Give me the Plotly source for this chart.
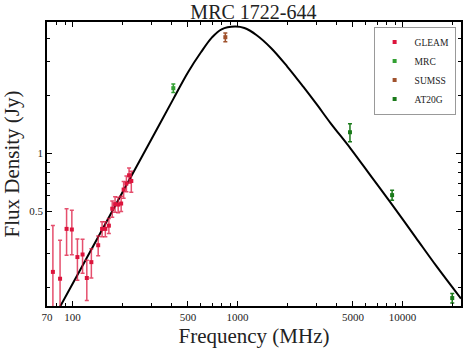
import plotly.graph_objects as go

# GLEAM
gleam_freq = [76, 84, 92, 99, 107, 115, 122, 130, 143, 151, 158, 166, 174, 181, 189, 197, 204, 212, 220, 227]
gleam_flux = [0.241, 0.222, 0.404, 0.401, 0.288, 0.297, 0.224, 0.271, 0.332, 0.404,
              0.404, 0.420, 0.515, 0.544, 0.541, 0.548, 0.648, 0.697, 0.769, 0.718]
gleam_err = [0.18, 0.13, 0.11, 0.105, 0.07, 0.06, 0.053, 0.047, 0.039, 0.036,
             0.036, 0.038, 0.05, 0.05, 0.05, 0.05, 0.065, 0.065, 0.07, 0.09]

mrc_freq = [408]
mrc_flux = [2.19]
mrc_err = [0.11]

sumss_freq = [843]
sumss_flux = [4.04]
sumss_err = [0.21]

at20g_freq = [4800, 8640, 20000]
at20g_flux = [1.29, 0.606, 0.176]
at20g_err = [0.14, 0.036, 0.01]

# fitted spectrum
model_freq = [80, 120, 160, 220, 300, 406, 500, 600, 700, 800, 965, 1100, 1300, 1600,
              2000, 2500, 3037, 3659, 4841, 6500, 8483, 12000, 16000, 22600]
model_flux = [0.147, 0.278, 0.438, 0.724, 1.182, 1.909, 2.645, 3.37, 4.03, 4.44, 4.59, 4.51, 4.15, 3.54,
              2.84, 2.23, 1.79, 1.44, 1.06, 0.752, 0.552, 0.365, 0.259, 0.175]

x_labels = [70, 100, 500, 1000, 5000, 10000]
x_minor = [80, 90, 200, 300, 400, 600, 700, 800, 900, 2000, 3000, 4000, 6000, 7000, 8000, 9000, 20000]
y_labels = [0.5, 1]
y_minor = [0.2, 0.3, 0.4, 0.6, 0.7, 0.8, 0.9, 2, 3, 4]

FONT = "Liberation Serif"

fig = go.Figure()

fig.add_trace(go.Scatter(
    x=model_freq, y=model_flux, mode="lines", line=dict(color="black", width=2, shape="spline"),
    showlegend=False, hoverinfo="skip"
))


def add_survey(name, freq, flux, err, color, errcolor):
    fig.add_trace(go.Scatter(
        x=freq, y=flux, mode="markers", name=name,
        marker=dict(color=color, size=4, symbol="square"),
        error_y=dict(type="data", array=err, color=errcolor, thickness=1.5, width=2),
    ))


add_survey("GLEAM", gleam_freq, gleam_flux, gleam_err, "#dc143c", "rgba(220,20,60,0.75)")
add_survey("MRC", mrc_freq, mrc_flux, mrc_err, "#32a032", "#32a032")
add_survey("SUMSS", sumss_freq, sumss_flux, sumss_err, "#a0522d", "#a0522d")
add_survey("AT20G", at20g_freq, at20g_flux, at20g_err, "#1a7a1a", "#1a7a1a")

axis_common = dict(
    type="log", showline=True, linecolor="black", linewidth=1.5, mirror="ticks",
    ticks="inside", ticklen=5, tickwidth=1, tickcolor="black",
    showgrid=False, zeroline=False, automargin=False,
    tickfont=dict(family=FONT, size=11, color="#222"),
    title_font=dict(family=FONT, size=21, color="#222"),
)

fig.update_xaxes(
    **axis_common,
    range=[1.8451, 4.3541],
    tickvals=x_labels, ticktext=[str(v) for v in x_labels],
    minor=dict(tickvals=x_minor, ticks="inside", ticklen=3, tickcolor="black"),
    title_text="Frequency (MHz)", title_standoff=6,
)
fig.update_yaxes(
    **axis_common,
    range=[-0.7959, 0.6857],
    tickvals=y_labels, ticktext=["0.5", "1"],
    minor=dict(tickvals=y_minor, ticks="inside", ticklen=3, tickcolor="black"),
    title_text="Flux Density (Jy)", title_standoff=6,
)

fig.update_layout(
    width=465, height=353,
    margin=dict(l=47, r=4, t=22, b=47),
    paper_bgcolor="white", plot_bgcolor="white",
    font=dict(family=FONT, color="black"),
    title=dict(text="MRC 1722-644", x=0.545, xanchor="center", y=0.966, yanchor="middle",
               font=dict(family=FONT, size=20, color="#222")),
    legend=dict(
        x=0.987, y=0.984, xanchor="right", yanchor="top",
        bgcolor="white", bordercolor="#999", borderwidth=1,
        font=dict(family=FONT, size=9.5, color="#222"),
        tracegroupgap=0, itemwidth=30,
    ),
)

# the page body has a default 8px margin, drop it so the figure sits at the corner
fig.write_html("out.html", config={"displayModeBar": False},
               post_script="document.body.style.margin='0';")
